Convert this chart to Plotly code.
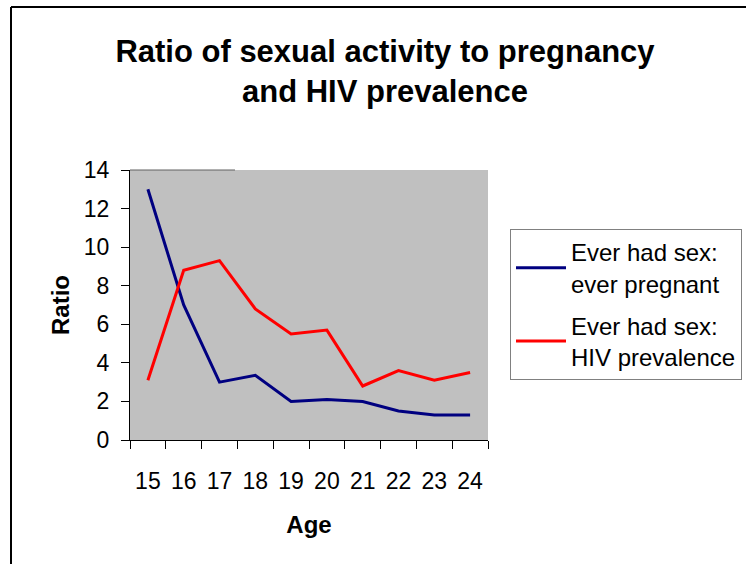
import plotly.graph_objects as go

ages = ["15", "16", "17", "18", "19", "20", "21", "22", "23", "24"]
pregnant_ratio = [13.0, 7.0, 3.0, 3.35, 2.0, 2.1, 2.0, 1.5, 1.3, 1.3]
hiv_ratio = [3.1, 8.8, 9.3, 6.8, 5.5, 5.7, 2.8, 3.6, 3.1, 3.5]
series_names = ["Ever had sex:<br>ever pregnant", "Ever had sex:<br>HIV prevalence"]
y_ticks = [0, 2, 4, 6, 8, 10, 12, 14]

FONT = "Liberation Sans, Arial, sans-serif"

W, H = 746, 564
L, R, T, B = 130, 258, 170, 124
pw, ph = W - L - R, H - T - B


def px_x(x):
    return (x - L) / pw


def px_y(y):
    return (H - B - y) / ph


fig = go.Figure()
fig.add_trace(go.Scatter(x=ages, y=pregnant_ratio, mode="lines", name=series_names[0],
                         line=dict(color="#000080", width=3), legendgroup="a"))
fig.add_trace(go.Scatter(x=ages, y=hiv_ratio, mode="lines", name=series_names[1],
                         line=dict(color="#FF0000", width=3), legendgroup="b"))

fig.update_layout(
    width=W, height=H,
    margin=dict(l=L, r=R, t=T, b=B, pad=0),
    paper_bgcolor="white",
    plot_bgcolor="#C0C0C0",
    font=dict(family=FONT, color="black", size=23),
    title=dict(text="<b>Ratio of sexual activity to pregnancy<br>and HIV prevalence</b>",
               x=385 / W, xanchor="center", xref="container",
               y=1 - 62 / H, yanchor="top", yref="container",
               font=dict(family=FONT, size=31, color="black")),
    showlegend=True,
    legend=dict(x=510 / W, y=1 - 229 / H, xanchor="left", yanchor="top",
                xref="container", yref="container",
                bgcolor="white", bordercolor="#808080", borderwidth=1,
                font=dict(family=FONT, size=24, color="black"),
                tracegroupgap=8, itemwidth=50),
    xaxis=dict(type="category", range=[-0.5, 9.5], tickson="boundaries",
               ticks="outside", ticklen=8, tickcolor="black", showline=True,
               linecolor="black", linewidth=1, showgrid=False, zeroline=False,
               tickfont=dict(size=23), ticklabelstandoff=20,
               title=dict(text="<b>Age</b>", font=dict(size=24), standoff=23)),
    yaxis=dict(range=[0, 14], tickvals=y_ticks, ticks="outside", ticklen=8,
               tickcolor="black", showline=True, linecolor="black", linewidth=1,
               showgrid=False, zeroline=False, tickfont=dict(size=23),
               ticklabelstandoff=7,
               title=dict(text="<b>Ratio</b>", font=dict(size=24), standoff=7)),
    shapes=[
        dict(type="line", xref="paper", yref="paper", x0=px_x(11), x1=px_x(11),
             y0=px_y(7), y1=px_y(580), line=dict(color="black", width=2)),
        dict(type="line", xref="paper", yref="paper", x0=px_x(11), x1=px_x(760),
             y0=px_y(7), y1=px_y(7), line=dict(color="black", width=2)),
        dict(type="line", xref="paper", yref="paper", x0=0, x1=px_x(235),
             y0=1, y1=1, line=dict(color="#606060", width=1)),
    ],
)

fig.write_html("out.html")
